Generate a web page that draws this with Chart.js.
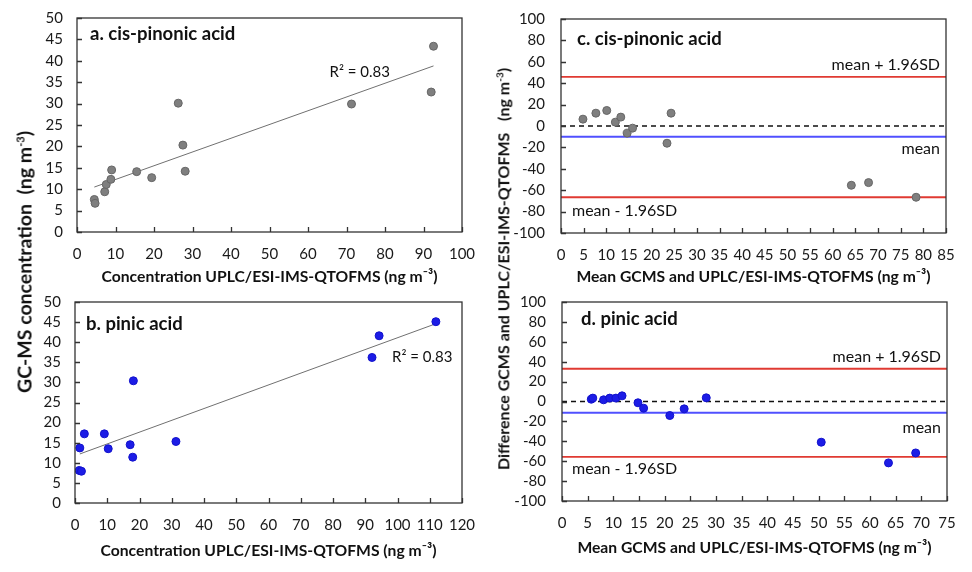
<!DOCTYPE html>
<html><head><meta charset="utf-8">
<script src="https://cdn.jsdelivr.net/npm/chart.js@4/dist/chart.umd.min.js"></script>
<style>
html,body{margin:0;padding:0;background:#fff;}
#wrap{position:relative;width:972px;height:572px;overflow:hidden;background:#fff;}
#wrap canvas{position:absolute;}
.ytitle{position:absolute;font-family:Lato,"Open Sans",sans-serif;font-weight:bold;color:#111;white-space:nowrap;transform:translate(-50%,-50%) rotate(-90deg);}
</style></head><body>
<div id="wrap">
<canvas id="ca" width="455" height="284" style="left:27px;top:8px;width:455px;height:284px"></canvas>
<canvas id="cb" width="457" height="271" style="left:25px;top:292px;width:457px;height:271px"></canvas>
<canvas id="cc" width="455" height="284" style="left:511px;top:9px;width:455px;height:284px"></canvas>
<canvas id="cd" width="455" height="269" style="left:512px;top:292px;width:455px;height:269px"></canvas>
<div class="ytitle" style="left:24px;top:262px;font-size:19.5px">GC-MS concentration&nbsp;&nbsp;(ng m<sup style="font-size:11px">-3</sup>)</div>
<div class="ytitle" style="left:503px;top:269px;font-size:16px">Difference GCMS and UPLC/ESI-IMS-QTOFMS&nbsp;&nbsp;&nbsp;(ng m<sup style="font-size:10px">-3</sup>)</div>
</div>
<script>
// ---- data ----
// a. cis-pinonic acid: UPLC (x) vs GC-MS (y)
const aX = [4.5, 4.7, 7.2, 7.6, 8.8, 9.0, 15.5, 19.4, 26.3, 27.5, 28.1, 71.3, 92.0, 92.6];
const aY = [7.6, 6.7, 9.4, 11.1, 12.3, 14.5, 14.1, 12.7, 30.1, 20.3, 14.2, 29.9, 32.7, 43.4];
const aFitX = [4.5, 92.6];
const aFitY = [10.5, 38.8];
// b. pinic acid
const bX = [1.5, 1.3, 2.0, 2.9, 9.1, 10.3, 17.1, 17.9, 18.1, 31.3, 92.1, 94.3, 111.9];
const bY = [13.7, 8.1, 7.9, 17.2, 17.2, 13.5, 14.5, 11.4, 30.4, 15.3, 36.2, 41.6, 45.1];
const bFitX = [1.5, 111.9];
const bFitY = [12.2, 44.6];
// c. cis-pinonic acid Bland-Altman
const cX = [4.85, 7.7, 10.1, 12.0, 13.2, 14.6, 15.8, 23.4, 24.3, 64.1, 67.9, 78.4];
const cY = [6.4, 12.0, 14.5, 3.6, 8.3, -6.7, -2.0, -16.1, 12.0, -55.4, -52.9, -66.6];
const cLimits = {upper: 46.0, mean: -10.1, lower: -66.6};
// d. pinic acid Bland-Altman
const dX = [5.7, 6.0, 8.1, 9.3, 10.5, 11.7, 14.8, 15.9, 21.0, 23.8, 28.1, 50.5, 63.6, 68.9];
const dY = [2.3, 3.4, 1.7, 3.4, 3.4, 5.7, -1.3, -6.7, -14.1, -7.4, 3.7, -40.9, -61.7, -51.7];
const dLimits = {upper: 32.9, mean: -11.4, lower: -55.7};
// axes
const aAxis = {xmin: 0, xmax: 100, xstep: 10, ymin: 0, ymax: 50, ystep: 5};
const bAxis = {xmin: 0, xmax: 120, xstep: 10, ymin: 0, ymax: 50, ystep: 5};
const cAxis = {xmin: 0, xmax: 85, xstep: 5, ymin: -100, ymax: 100, ystep: 20};
const dAxis = {xmin: 0, xmax: 75, xstep: 5, ymin: -100, ymax: 100, ystep: 20};
const titleConc = 'Concentration UPLC/ESI-IMS-QTOFMS (ng m\u207B\u00B3)';
const titleMean = 'Mean GCMS and UPLC/ESI-IMS-QTOFMS (ng m\u207B\u00B3)';

const FONT = 'Lato, "Open Sans", sans-serif';
const pts = (xs, ys) => xs.map((x, i) => ({x, y: ys[i]}));

const deco = {
  id: 'deco',
  afterDatasetsDraw(chart, args, o) {
    const ctx = chart.ctx, ca = chart.chartArea, xs = chart.scales.x, ys = chart.scales.y;
    ctx.save();
    ctx.strokeStyle = '#333';
    ctx.lineWidth = 1.3;
    ctx.beginPath();
    xs.ticks.forEach(t => { const px = Math.round(xs.getPixelForValue(t.value)) + 0.5; ctx.moveTo(px, ca.bottom); ctx.lineTo(px, ca.bottom - 5); });
    ys.ticks.forEach(t => { const py = Math.round(ys.getPixelForValue(t.value)) + 0.5; ctx.moveTo(ca.left, py); ctx.lineTo(ca.left + 5, py); });
    ctx.stroke();
    ctx.strokeRect(ca.left, ca.top, ca.right - ca.left, ca.bottom - ca.top);
    (o.texts || []).forEach(t => {
      ctx.font = (t.bold ? 'bold ' : '') + t.size + 'px ' + FONT;
      ctx.fillStyle = '#111';
      ctx.textBaseline = 'middle';
      ctx.textAlign = t.align || 'left';
      let x, y;
      if (t.dx !== undefined) x = xs.getPixelForValue(t.dx); else if (t.fromRight !== undefined) x = ca.right - t.fromRight; else x = ca.left + t.fromLeft;
      if (t.dy !== undefined) y = ys.getPixelForValue(t.dy) + (t.off || 0); else y = ca.top + t.fromTop;
      ctx.fillText(t.text, x, y);
    });
    ctx.restore();
  }
};

function make(id, ax, datasets, xTitle, titlePad, yPad, texts) {
  return new Chart(document.getElementById(id), {
    type: 'scatter',
    data: {datasets},
    plugins: [deco],
    options: {
      responsive: false, animation: false, events: [],
      layout: {padding: {left: 0, right: 20, top: 10, bottom: 0}},
      plugins: {legend: {display: false}, tooltip: {enabled: false}, deco: {texts}},
      scales: {
        x: {type: 'linear', min: ax.xmin, max: ax.xmax,
          grid: {display: false, drawTicks: false}, border: {display: false},
          ticks: {stepSize: ax.xstep, color: '#1a1a1a', font: {family: FONT, size: 15}, padding: 13, maxRotation: 0, autoSkip: false},
          title: {display: true, text: xTitle, color: '#111', font: {family: FONT, size: 15.7, weight: 'bold'}, padding: {top: 0, bottom: titlePad}},
          afterFit: s => { s.height = 60; s.paddingLeft = 0; s.paddingRight = 0; }
        },
        y: {type: 'linear', min: ax.ymin, max: ax.ymax,
          grid: {display: false, drawTicks: false}, border: {display: false},
          ticks: {stepSize: ax.ystep, color: '#1a1a1a', font: {family: FONT, size: 15}, padding: yPad, autoSkip: false},
          afterFit: s => { s.width = 50; s.paddingTop = 0; s.paddingBottom = 0; }
        }
      }
    }
  });
}

const grayPt = {backgroundColor: '#7f7f7f', borderColor: '#666', borderWidth: 1, pointRadius: 4};
const bluePt = {backgroundColor: '#1c1ce6', borderColor: '#1212cc', borderWidth: 1, pointRadius: 4};
const fitLine = (xs, ys) => ({type: 'line', data: pts(xs, ys), borderColor: '#707070', borderWidth: 1, pointRadius: 0, showLine: true, fill: false});
const hLine = (ax, y, color, width, dash) => ({type: 'line', data: [{x: ax.xmin, y}, {x: ax.xmax, y}], borderColor: color, borderWidth: width, borderDash: dash || [], pointRadius: 0, showLine: true, fill: false});

make('ca', aAxis, [
  Object.assign({data: pts(aX, aY)}, grayPt),
  fitLine(aFitX, aFitY)
], titleConc, 6, 14, [
  {text: 'a. cis-pinonic acid', bold: true, size: 18.5, fromLeft: 13, fromTop: 16},
  {text: 'R\u00B2 = 0.83', size: 15, dx: 65.6, dy: 37.3}
]);

make('cb', bAxis, [
  Object.assign({data: pts(bX, bY)}, bluePt),
  fitLine(bFitX, bFitY)
], titleConc, 3, 14, [
  {text: 'b. pinic acid', bold: true, size: 18.5, fromLeft: 11, fromTop: 22},
  {text: 'R\u00B2 = 0.83', size: 15, dx: 98.3, dy: 36.2}
]);

function baDatasets(ax, xs, ys, lim, pt) {
  return [
    Object.assign({data: pts(xs, ys), order: 0}, pt),
    Object.assign(hLine(ax, 0, '#111', 1.4, [5, 4]), {order: 1}),
    Object.assign(hLine(ax, lim.mean, '#5050ff', 2), {order: 2}),
    Object.assign(hLine(ax, lim.upper, '#e03a32', 1.8), {order: 3}),
    Object.assign(hLine(ax, lim.lower, '#e03a32', 1.8), {order: 4})
  ];
}

make('cc', cAxis, baDatasets(cAxis, cX, cY, cLimits, grayPt), titleMean, 7, 16, [
  {text: 'c. cis-pinonic acid', bold: true, size: 18.5, fromLeft: 16, fromTop: 20},
  {text: 'mean + 1.96SD', size: 16, align: 'right', fromRight: 6, dy: cLimits.upper, off: -12},
  {text: 'mean', size: 16, align: 'right', fromRight: 6, dy: cLimits.mean, off: 12},
  {text: 'mean - 1.96SD', size: 16, fromLeft: 11, dy: cLimits.lower, off: 14}
]);

make('cd', dAxis, baDatasets(dAxis, dX, dY, dLimits, bluePt), titleMean, 4, 16, [
  {text: 'd. pinic acid', bold: true, size: 18.5, fromLeft: 19, fromTop: 17},
  {text: 'mean + 1.96SD', size: 16, align: 'right', fromRight: 6, dy: dLimits.upper, off: -12},
  {text: 'mean', size: 16, align: 'right', fromRight: 6, dy: dLimits.mean, off: 15},
  {text: 'mean - 1.96SD', size: 16, fromLeft: 10, dy: dLimits.lower, off: 12}
]);
</script>
</body></html>
